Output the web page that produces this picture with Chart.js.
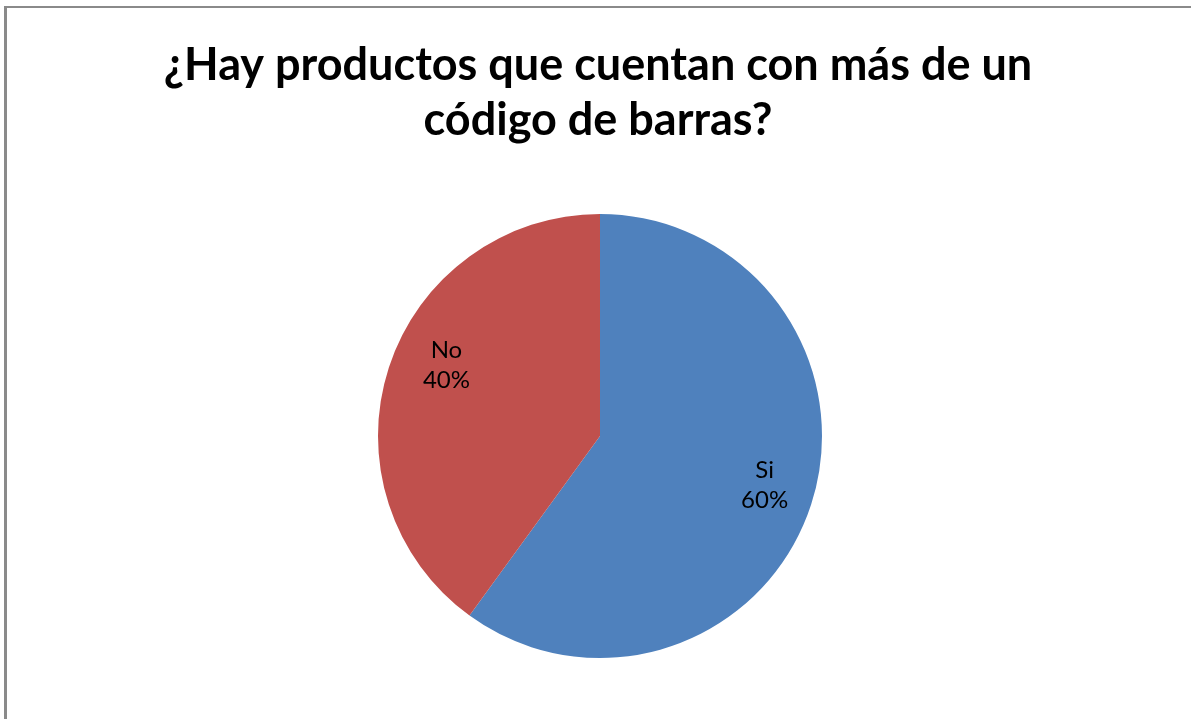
<!DOCTYPE html>
<html>
<head>
<meta charset="utf-8">
<script src="https://cdn.jsdelivr.net/npm/chart.js@4/dist/chart.umd.min.js"></script>
<style>
  html, body { margin: 0; padding: 0; background: #fff; overflow: hidden; }
  #wrap { position: relative; width: 1191px; height: 719px; }
  #frame {
    position: absolute; left: 4px; top: 6px; width: 1300px; height: 900px;
    border-left: 3px solid #8a8a8a; border-top: 2px solid #8a8a8a;
  }
  canvas { position: absolute; left: 0; top: 0; }
</style>
</head>
<body>
<div id="wrap">
  <div id="frame"></div>
  <canvas id="chart" width="1191" height="719"></canvas>
</div>
<script>
const titleLines = ['¿Hay productos que cuentan con más de un', 'código de barras?'];
const categories = ['Si', 'No'];
const values = [60, 40];
const colors = ['#4F81BD', '#C0504D'];

const titlePlugin = {
  id: 'excelTitle',
  afterDraw(chart) {
    const ctx = chart.ctx;
    ctx.save();
    ctx.fillStyle = '#000';
    ctx.font = 'bold 45px Lato, "Open Sans", sans-serif';
    ctx.textAlign = 'center';
    ctx.textBaseline = 'alphabetic';
    ctx.fillText(titleLines[0], 598, 80);
    ctx.fillText(titleLines[1], 598, 135);
    ctx.restore();
  }
};

// excel "best fit" labels sit a little off the mid angle
const labelNudge = [[2, -4], [9, -18]];

const labelPlugin = {
  id: 'sliceLabels',
  afterDatasetsDraw(chart) {
    const ctx = chart.ctx;
    const meta = chart.getDatasetMeta(0);
    const total = values.reduce((a, b) => a + b, 0);
    ctx.save();
    ctx.fillStyle = '#000';
    ctx.font = '24px Lato, "Open Sans", sans-serif';
    ctx.textAlign = 'center';
    ctx.textBaseline = 'middle';
    meta.data.forEach((arc, i) => {
      const p = arc.getProps(['x', 'y', 'startAngle', 'endAngle', 'outerRadius'], true);
      const mid = (p.startAngle + p.endAngle) / 2;
      const r = p.outerRadius * 0.77;
      const x = p.x + Math.cos(mid) * r + labelNudge[i][0];
      const y = p.y + Math.sin(mid) * r + labelNudge[i][1];
      const pct = Math.round(values[i] / total * 100) + '%';
      ctx.fillText(categories[i], x, y - 15);
      ctx.fillText(pct, x, y + 15);
    });
    ctx.restore();
  }
};

new Chart(document.getElementById('chart'), {
  type: 'pie',
  data: {
    labels: categories,
    datasets: [{
      data: values,
      backgroundColor: colors,
      borderWidth: 0
    }]
  },
  options: {
    responsive: false,
    animation: false,
    devicePixelRatio: 1,
    layout: { padding: { top: 214, bottom: 61, left: 9, right: 0 } },
    plugins: {
      legend: { display: false },
      title: { display: false },
      tooltip: { enabled: false }
    }
  },
  plugins: [titlePlugin, labelPlugin]
});
</script>
</body>
</html>
